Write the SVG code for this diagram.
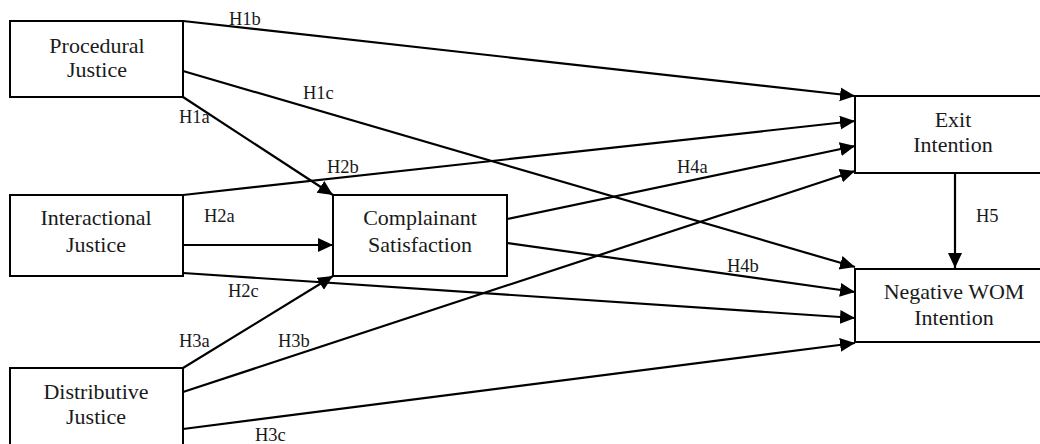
<svg xmlns="http://www.w3.org/2000/svg" width="1040" height="444" viewBox="0 0 1040 444">
<style>
.box{fill:#fff;stroke:#000;stroke-width:2}
.t{font-family:"Liberation Serif","Times New Roman",serif;font-size:22px;fill:#1a1a1a;text-anchor:middle}
.l{font-family:"Liberation Serif","Times New Roman",serif;font-size:18.5px;fill:#1a1a1a}
.e{stroke:#000;stroke-width:2.2;fill:none;marker-end:url(#ah)}
</style>
<defs>
<marker id="ah" markerUnits="userSpaceOnUse" markerWidth="16" markerHeight="15" refX="15" refY="7" orient="auto" viewBox="0 0 16 15">
<path d="M0,0 L15,7 L0,14 z" fill="#000"/>
</marker>
</defs>
<rect x="0" y="0" width="1040" height="444" fill="#fff"/>
<g id="connectors">
<line class="e" x1="183" y1="21" x2="855" y2="96"/>
<line class="e" x1="183" y1="71" x2="855" y2="267"/>
<line class="e" x1="183" y1="97" x2="333" y2="195"/>
<line class="e" x1="183" y1="195" x2="855" y2="121"/>
<line class="e" x1="183" y1="245" x2="333" y2="245"/>
<line class="e" x1="183" y1="273" x2="855" y2="318"/>
<line class="e" x1="183" y1="368" x2="333" y2="276"/>
<line class="e" x1="183" y1="392" x2="855" y2="171"/>
<line class="e" x1="183" y1="429" x2="855" y2="343"/>
<line class="e" x1="507" y1="219" x2="855" y2="146"/>
<line class="e" x1="507" y1="243" x2="855" y2="292"/>
<line class="e" x1="955" y1="169" x2="955" y2="268"/>
</g>
<g id="labels">
<text class="l" x="229" y="25">H1b</text>
<text class="l" x="303" y="99">H1c</text>
<text class="l" x="179" y="123">H1a</text>
<text class="l" x="327" y="173">H2b</text>
<text class="l" x="204" y="222">H2a</text>
<text class="l" x="228" y="297">H2c</text>
<text class="l" x="179" y="347">H3a</text>
<text class="l" x="278" y="347">H3b</text>
<text class="l" x="255" y="441">H3c</text>
<text class="l" x="677" y="173">H4a</text>
<text class="l" x="727" y="272">H4b</text>
<text class="l" x="976" y="222">H5</text>
</g>
<g id="procedural">
<rect class="box" x="10" y="21" width="173" height="76"/>
<text class="t" x="97" y="53">Procedural</text>
<text class="t" x="97" y="77">Justice</text>
</g>
<g id="interactional">
<rect class="box" x="10" y="195" width="173" height="81"/>
<text class="t" x="96" y="225">Interactional</text>
<text class="t" x="96" y="252">Justice</text>
</g>
<g id="distributive">
<rect class="box" x="10" y="368" width="173" height="84"/>
<text class="t" x="96" y="399">Distributive</text>
<text class="t" x="96" y="424">Justice</text>
</g>
<g id="complainant">
<rect class="box" x="333" y="195" width="174" height="81"/>
<text class="t" x="420" y="225">Complainant</text>
<text class="t" x="420" y="252">Satisfaction</text>
</g>
<g id="exit">
<rect class="box" x="855" y="96" width="198" height="77"/>
<text class="t" x="953" y="127">Exit</text>
<text class="t" x="953" y="152">Intention</text>
</g>
<g id="negwom">
<rect class="box" x="855" y="269" width="198" height="73"/>
<text class="t" x="954" y="299">Negative WOM</text>
<text class="t" x="954" y="325">Intention</text>
</g>
</svg>
